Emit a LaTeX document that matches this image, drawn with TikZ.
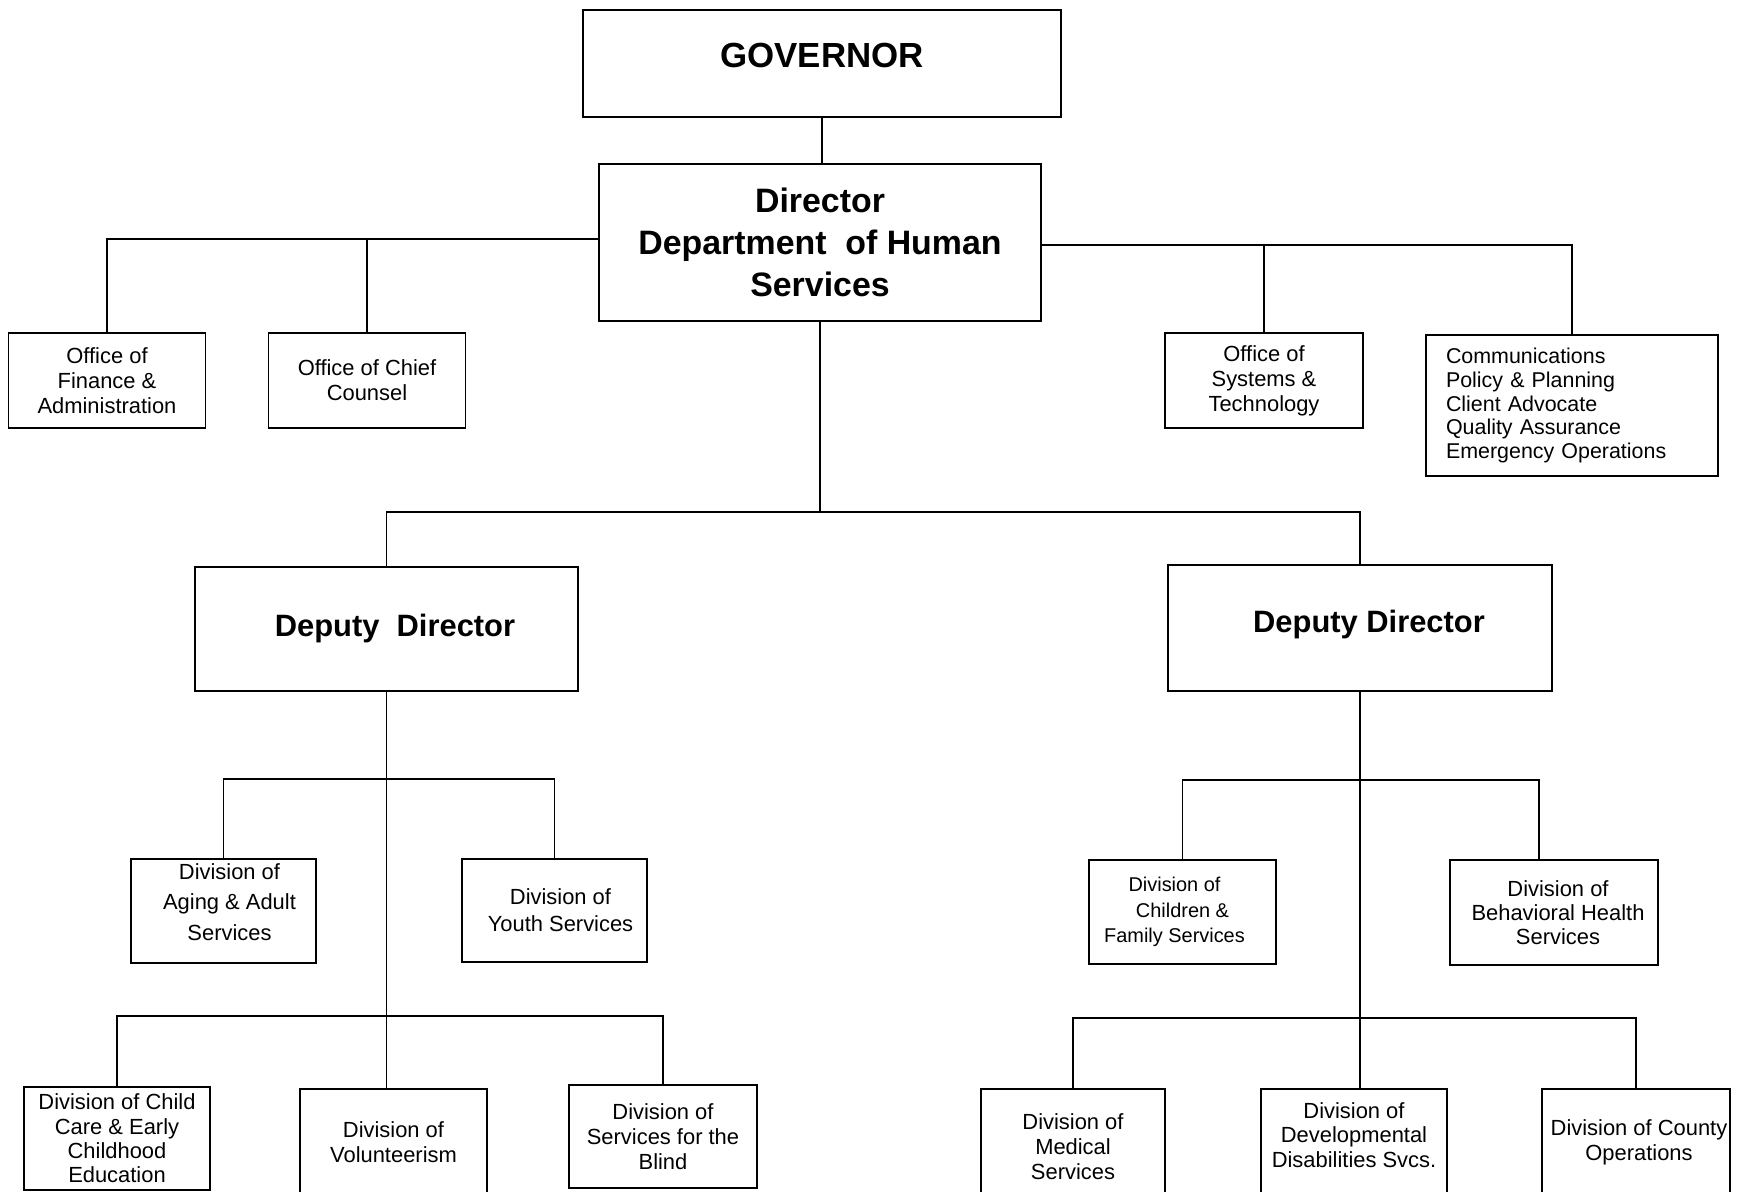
\documentclass[tikz,border=0pt]{standalone}
\usepackage{fontspec}
\setmainfont{Liberation Sans}
\tikzset{
  box/.style={draw, line width=1.6bp, inner sep=0pt, align=center, font=\fontsize{22}{25}\selectfont},
  link/.style={black, line width=1.6bp},
}
\begin{document}
\begin{tikzpicture}[line join=miter]
\useasboundingbox (0bp,0bp) rectangle (1740bp,1192bp);
\clip (0bp,0bp) rectangle (1740bp,1192bp);
%%
\node (gov) at (822bp,1128.5bp) [box,minimum width=478bp,minimum height=107bp,text height=25bp,text depth=17bp,font=\fontsize{35}{42}\selectfont\bfseries] {GOVERNOR};
  \node (dir) at (820bp,949.5bp) [box,minimum width=442bp,minimum height=157bp,font=\fontsize{34}{42}\selectfont\bfseries] {Director\\Department\ \ of Human\\Services};
  \node (fin) at (107bp,811.5bp) [box,minimum width=197bp,minimum height=95bp] {Office of\\Finance \&\\Administration};
  \node (cc) at (367bp,811.5bp) [box,minimum width=197bp,minimum height=95bp] {Office of Chief\\Counsel};
  \node (sys) at (1264bp,811.5bp) [box,minimum width=198bp,minimum height=95bp] {Office of\\Systems \&\\Technology};
  \node (comms) at (1572bp,786.5bp) [box,minimum width=292bp,minimum height=141bp,text width=252bp,align=left,font=\fontsize{21.5}{24}\selectfont] {Communications\\Policy \& Planning\\Client Advocate\\Quality Assurance\\Emergency Operations};
  \node (dep1) at (386.5bp,563bp) [box,minimum width=383bp,minimum height=124bp,font=\fontsize{31}{38}\selectfont\bfseries] {\hspace{17bp}Deputy\ \ Director};
  \node (dep2) at (1360bp,564bp) [box,minimum width=384bp,minimum height=126bp,text height=22bp,text depth=12bp,font=\fontsize{31}{38}\selectfont\bfseries] {\hspace{18bp}Deputy Director};
  \node (aging) at (223.5bp,281bp) [box,minimum width=185bp,minimum height=104bp,text depth=18bp,font=\fontsize{22}{31}\selectfont] {\hspace{12bp}Division of\\\hspace{12bp}Aging \& Adult\\\hspace{12bp}Services};
  \node (youth) at (554.5bp,281.5bp) [box,minimum width=185bp,minimum height=103bp,font=\fontsize{22}{27}\selectfont] {\hspace{12bp}Division of\\\hspace{12bp}Youth Services};
  \node (children) at (1182.5bp,280bp) [box,minimum width=187bp,minimum height=104bp,font=\fontsize{20}{25.5}\selectfont] {Division of\hspace*{16bp}\\Children \&\hspace*{16bp}\\Family Services\hspace*{16bp}};
  \node (beh) at (1554bp,279.5bp) [box,minimum width=208bp,minimum height=105bp,font=\fontsize{22}{24}\selectfont] {\hspace{8bp}Division of\\\hspace{8bp}Behavioral Health\\\hspace{8bp}Services};
  \node (child) at (117bp,53.5bp) [box,minimum width=186bp,minimum height=103bp,font=\fontsize{22}{24.5}\selectfont] {Division of Child\\Care \& Early\\Childhood\\Education};
  \node (vol) at (393.5bp,50bp) [box,minimum width=187bp,minimum height=106bp] {Division of\\Volunteerism};
  \node (blind) at (663bp,55.5bp) [box,minimum width=188bp,minimum height=103bp] {Division of\\Services for the\\Blind};
  \node (med) at (1073bp,45bp) [box,minimum width=184bp,minimum height=116bp] {Division of\\Medical\\Services};
  \node (dev) at (1354bp,50bp) [box,minimum width=186bp,minimum height=106bp,text depth=14bp] {Division of\\Developmental\\Disabilities Svcs.};
  \node (county) at (1636bp,50bp) [box,minimum width=188bp,minimum height=106bp] {\hspace{6bp}Division of County\\\hspace{6bp}Operations};
%
  \coordinate (dirL) at ([yshift=3.5bp]dir.west);
  \coordinate (dirR) at ([yshift=-2.5bp]dir.east);
  \coordinate (split) at (820bp,680bp);
  \coordinate (busL1) at (386.5bp,413bp);
  \coordinate (busL2) at (386.5bp,176bp);
  \coordinate (busR1) at (1360bp,412bp);
  \coordinate (busR2) at (1360bp,174bp);
%
  \draw [link] (gov.south) -- (gov.south |- dir.north);
  \draw [link] (dirL) -| (fin.north);
  \draw [link] (cc.north) -- (cc.north |- dirL);
  \draw [link] (dirR) -| (comms.north);
  \draw [link] (sys.north) -- (sys.north |- dirR);
  \draw [link] (dir.south) -- (split);
  \draw [link] (dep1.north) |- (split) -| (dep2.north);
  \draw [link] (dep1.south) -- (dep1.south |- vol.north);
  \draw [link] (aging.north) |- (busL1) -| (youth.north);
  \draw [link] (child.north) |- (busL2) -| (blind.north);
  \draw [link] (dep2.south) -- (dep2.south |- dev.north);
  \draw [link] (children.north) |- (busR1) -| ([xshift=-15bp]beh.north);
  \draw [link] (med.north) |- (busR2) -| (county.north);
%
\end{tikzpicture}
\end{document}
